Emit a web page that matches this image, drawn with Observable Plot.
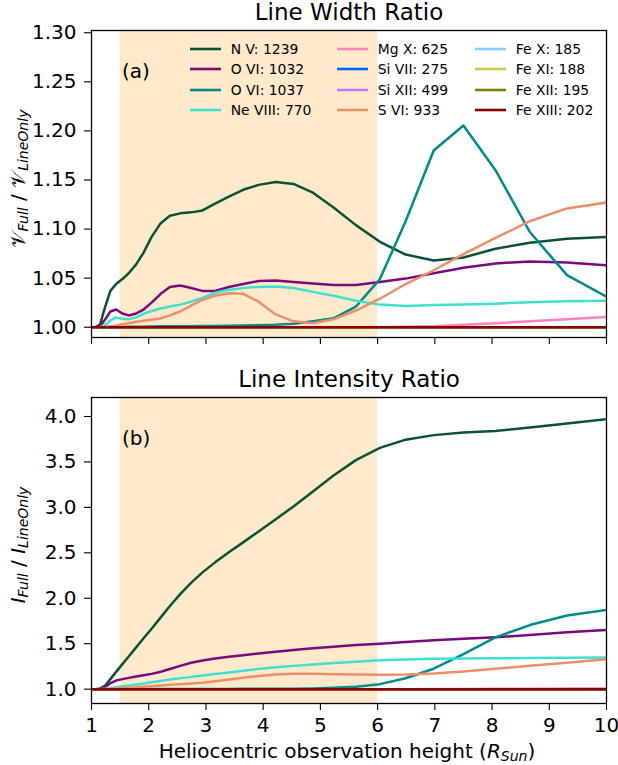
<!DOCTYPE html>
<html><head><meta charset="utf-8">
<script src="https://cdn.jsdelivr.net/npm/d3@7"></script>
<script src="https://cdn.jsdelivr.net/npm/@observablehq/plot@0.6"></script>
<style>
body{margin:0;background:#fff;}
#wrap{position:relative;width:618px;height:765px;font-family:"DejaVu Sans",sans-serif;}
#wrap svg{display:block;}
#legend{position:absolute;left:190px;top:39px;display:grid;grid-template-columns:147px 138px 130px;grid-template-rows:repeat(4,20.3px);grid-auto-flow:column;font-size:13.9px;color:#000;}
.item{display:flex;align-items:center;white-space:nowrap;}
.item svg{margin-right:9.7px;flex-shrink:0;}
</style></head><body><div id="wrap"><div id="legend"></div></div>
<script>
// ---- data ----
const heights = [1.00, 1.07, 1.15, 1.24, 1.33, 1.43, 1.54, 1.65, 1.78, 1.91, 2.05, 2.21, 2.37, 2.55, 2.74, 2.94, 3.16, 3.40, 3.65, 3.92, 4.22, 4.53, 4.87, 5.23, 5.62, 6.04, 6.49, 6.98, 7.50, 8.06, 8.66, 9.31, 10.00];
const heightsCoarse = [1, 2, 3, 4, 5, 6, 7, 8, 9, 10];

const lineNames = ["N V: 1239", "O VI: 1032", "O VI: 1037", "Ne VIII: 770", "Mg X: 625", "Si VII: 275", "Si XII: 499", "S VI: 933", "Fe X: 185", "Fe XI: 188", "Fe XII: 195", "Fe XIII: 202"];
const lineColors = ["#0b5234", "#7a0a7c", "#008b8b", "#40e0d0", "#ff81c0", "#0165fc", "#bf77f6", "#ec8f68", "#87cefa", "#c9c84a", "#808000", "#8b0000"];

// Line width ratio (panel a)
const widthNV      = [1.000,1.000,1.003,1.021,1.037,1.044,1.049,1.055,1.064,1.076,1.092,1.106,1.1135,1.116,1.117,1.119,1.126,1.133,1.140,1.145,1.148,1.146,1.137,1.122,1.104,1.087,1.074,1.068,1.071,1.080,1.086,1.090,1.092];
const widthOVI1032 = [1.000,1.000,1.001,1.008,1.016,1.018,1.014,1.012,1.014,1.018,1.025,1.034,1.041,1.0425,1.040,1.037,1.037,1.041,1.044,1.047,1.0475,1.046,1.0445,1.043,1.043,1.046,1.0495,1.055,1.0605,1.065,1.067,1.066,1.063];
const widthOVI1037 = [1.000,1.000,1.000,1.000,1.000,1.000,1.000,1.0005,1.0005,1.0005,1.0008,1.001,1.001,1.001,1.001,1.0012,1.0013,1.0015,1.0018,1.002,1.0025,1.0035,1.006,1.009,1.021,1.049,1.108,1.180,1.2055,1.160,1.097,1.053,1.031];
const widthNeVIII  = [1.000,1.000,1.000,1.002,1.007,1.010,1.0085,1.008,1.010,1.0135,1.0165,1.019,1.021,1.023,1.026,1.030,1.035,1.038,1.040,1.041,1.0415,1.040,1.036,1.032,1.027,1.023,1.0215,1.0225,1.023,1.024,1.0255,1.0265,1.027];
const widthMgX     = [1.000,1.000,1.000,1.000,1.000,1.000,1.000,1.000,1.000,1.000,1.000,1.000,1.000,1.000,1.000,1.000,1.000,1.000,1.000,1.000,1.000,1.000,1.000,1.000,1.000,1.000,1.0005,1.001,1.0025,1.004,1.006,1.008,1.0105];
const widthSVI     = [1.000,1.000,1.000,1.000,1.001,1.0015,1.003,1.004,1.0055,1.0065,1.0075,1.009,1.012,1.016,1.022,1.028,1.032,1.0345,1.034,1.026,1.013,1.006,1.004,1.008,1.017,1.029,1.044,1.058,1.0745,1.091,1.108,1.121,1.127];
const widthSiVII   = [1,1,1,1,1,1,1,1,1,1];
const widthSiXII   = [1,1,1,1,1,1,1,1,1,1];
const widthFeX     = [1,1,1,1,1,1,1,1,1,1];
const widthFeXI    = [1,1,1,1,1,1,1,1,1,1];
const widthFeXII   = [1,1,1,1,1,1,1,1,1,1];
const widthFeXIII  = [1,1,1,1,1,1,1,1,1,1];

// Line intensity ratio (panel b)
const intNV      = [1.000,1.000,1.005,1.040,1.110,1.190,1.275,1.360,1.460,1.560,1.665,1.790,1.915,2.045,2.170,2.285,2.395,2.505,2.615,2.735,2.870,3.010,3.175,3.350,3.520,3.655,3.745,3.795,3.823,3.840,3.878,3.922,3.970];
const intOVI1032 = [1.000,1.000,1.005,1.025,1.065,1.095,1.110,1.124,1.138,1.152,1.168,1.192,1.222,1.256,1.290,1.315,1.336,1.356,1.374,1.392,1.411,1.430,1.449,1.467,1.485,1.500,1.518,1.537,1.555,1.571,1.596,1.625,1.652];
const intOVI1037 = [1.000,1.000,1.000,1.000,1.000,1.000,1.000,1.000,1.000,1.000,1.001,1.001,1.001,1.001,1.002,1.002,1.002,1.002,1.003,1.003,1.004,1.005,1.008,1.016,1.026,1.055,1.120,1.225,1.385,1.570,1.705,1.810,1.872];
const intNeVIII  = [1.000,1.000,1.000,1.005,1.012,1.022,1.032,1.041,1.051,1.062,1.075,1.090,1.105,1.120,1.135,1.150,1.166,1.184,1.202,1.222,1.240,1.256,1.272,1.287,1.302,1.317,1.327,1.334,1.338,1.340,1.343,1.346,1.348];
const intMgX     = [1.000,1.000,1.000,1.000,1.000,1.000,1.000,1.000,1.000,1.000,1.000,1.000,1.000,1.000,1.000,1.000,1.000,1.000,1.000,1.000,1.000,1.000,1.000,1.000,1.000,1.000,1.000,1.001,1.002,1.003,1.004,1.006,1.008];
const intSVI     = [1.000,1.000,1.000,1.002,1.005,1.008,1.012,1.016,1.021,1.027,1.033,1.040,1.048,1.055,1.062,1.071,1.086,1.105,1.125,1.145,1.161,1.170,1.168,1.164,1.160,1.157,1.160,1.172,1.195,1.225,1.257,1.290,1.330];
const intSiVII   = [1,1,1,1,1,1,1,1,1,1];
const intSiXII   = [1,1,1,1,1,1,1,1,1,1];
const intFeX     = [1,1,1,1,1,1,1,1,1,1];
const intFeXI    = [1,1,1,1,1,1,1,1,1,1];
const intFeXII   = [1,1,1,1,1,1,1,1,1,1];
const intFeXIII  = [1,1,1,1,1,1,1,1,1,1];

const xTicks = [1, 2, 3, 4, 5, 6, 7, 8, 9, 10];
const widthTicks = [1.00, 1.05, 1.10, 1.15, 1.20, 1.25, 1.30];
const intTicks = [1.0, 1.5, 2.0, 2.5, 3.0, 3.5, 4.0];
const shadeRange = {start: 1.5, end: 6.0};

// ---- build tables ----
const widthSeries = [widthNV, widthOVI1032, widthOVI1037, widthNeVIII, widthMgX, widthSiVII, widthSiXII, widthSVI, widthFeX, widthFeXI, widthFeXII, widthFeXIII];
const intSeries = [intNV, intOVI1032, intOVI1037, intNeVIII, intMgX, intSiVII, intSiXII, intSVI, intFeX, intFeXI, intFeXII, intFeXIII];
function table(seriesList) {
  const rows = [];
  seriesList.forEach((vals, i) => {
    const xs = vals.length === heights.length ? heights : heightsCoarse;
    vals.forEach((v, j) => rows.push({name: lineNames[i], h: xs[j], v}));
  });
  return rows;
}
const widthRows = table(widthSeries);
const intRows = table(intSeries);

const FONT = "DejaVu Sans";
const TICKFS = 20;

function panel({rows, yDomain, yTicks, yFmt, height, marginTop, marginBottom, title, tag, showXLabels}) {
  return Plot.plot({
    width: 618, height, marginTop, marginBottom, marginLeft: 91, marginRight: 12,
    style: {fontFamily: FONT, fontSize: TICKFS + "px", color: "#000", background: "transparent", overflow: "visible"},
    x: {domain: [1, 10]},
    y: {domain: yDomain},
    color: {domain: lineNames, range: lineColors},
    marks: [
      Plot.rect([shadeRange], {x1: "start", x2: "end", fill: "#feeacb"}),
      Plot.line(rows, {x: "h", y: "v", z: "name", stroke: "name", strokeWidth: 2.5, clip: true}),
      Plot.frame({stroke: "#000", strokeWidth: 1.3}),
      Plot.axisX({ticks: xTicks, tickSize: 7, tickPadding: 7, strokeWidth: 1.1, label: null,
        tickFormat: showXLabels ? (d => String(d)) : (() => "")}),
      Plot.axisY({ticks: yTicks, tickSize: 7, tickPadding: 8, strokeWidth: 1.1, label: null, tickFormat: yFmt}),
      Plot.text([title], {text: d => d, frameAnchor: "top", dy: -10.5, lineAnchor: "bottom", fontSize: 23}),
      Plot.text([tag], {text: d => d, frameAnchor: "top-left", dx: 30.5, dy: 41, lineAnchor: "middle", textAnchor: "start", fontSize: TICKFS})
    ]
  });
}

function addMathLabel(svg, x, y, rotate, parts, fs) {
  const t = d3.select(svg).append("text")
    .attr("transform", `translate(${x},${y}) rotate(${rotate})`)
    .attr("text-anchor", "middle").attr("font-family", FONT).attr("font-size", fs).attr("fill", "#000");
  parts.forEach(p => {
    const ts = t.append("tspan").text(p.t);
    if (p.i) ts.attr("font-style", "italic");
    if (p.s) ts.attr("baseline-shift", "-22%").attr("font-size", fs * 0.7);
    if (p.f) ts.attr("font-family", p.f);
  });
}

const wrap = document.getElementById("wrap");
const topSvg = panel({rows: widthRows, yDomain: [0.9895, 1.3023], yTicks: widthTicks, yFmt: d => d.toFixed(2),
  height: 365, marginTop: 30, marginBottom: 28, title: "Line Width Ratio", tag: "(a)", showXLabels: false});
const botSvg = panel({rows: intRows, yDomain: [0.842, 4.209], yTicks: intTicks, yFmt: d => d.toFixed(1),
  height: 400, marginTop: 32, marginBottom: 62, title: "Line Intensity Ratio", tag: "(b)", showXLabels: true});
wrap.appendChild(topSvg);
wrap.appendChild(botSvg);

const SCRIPT = "DejaVu Serif, DejaVu Sans, Noto Sans, serif";
addMathLabel(topSvg, 25, 179, -90, [
  {t: "𝒱", f: SCRIPT}, {t: "Full", i: true, s: true}, {t: " / "}, {t: "𝒱", f: SCRIPT}, {t: "LineOnly", i: true, s: true}
], TICKFS);
addMathLabel(botSvg, 25, 180, -90, [
  {t: "I", i: true}, {t: "Full", i: true, s: true}, {t: " / "}, {t: "I", i: true}, {t: "LineOnly", i: true, s: true}
], TICKFS);
addMathLabel(botSvg, 347, 393, 0, [
  {t: "Heliocentric observation height ("}, {t: "R", i: true}, {t: "Sun", i: true, s: true}, {t: ")"}
], TICKFS);

// legend
const legend = document.getElementById("legend");
lineNames.forEach((n, i) => {
  const item = document.createElement("div");
  item.className = "item";
  item.innerHTML = `<svg width="31" height="6"><line x1="0" x2="31" y1="3" y2="3" stroke="${lineColors[i]}" stroke-width="2.6"/></svg><span></span>`;
  item.querySelector("span").textContent = n;
  legend.appendChild(item);
});
wrap.appendChild(legend);
</script></body></html>
